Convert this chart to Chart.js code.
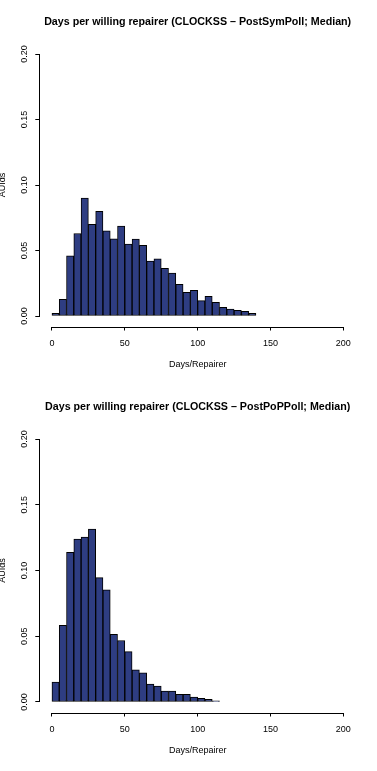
<!DOCTYPE html>
<html>
<head>
<meta charset="utf-8">
<script src="https://cdn.jsdelivr.net/npm/chart.js@4/dist/chart.umd.min.js"></script>
<style>
  body { margin: 0; background: #fff; }
  canvas { display: block; }
</style>
</head>
<body>
<canvas id="symPoll" width="377" height="385"></canvas>
<canvas id="popPoll" width="377" height="386"></canvas>
<script>
// bin lower edges (5 days wide) and densities
const binWidth = 5;
const symBins = [0, 5, 10, 15, 20, 25, 30, 35, 40, 45, 50, 55, 60, 65, 70, 75, 80, 85, 90, 95,
  100, 105, 110, 115, 120, 125, 130, 135];
const symDensity = [0.002, 0.0128, 0.046, 0.063, 0.090, 0.070, 0.080, 0.065, 0.059, 0.0686,
  0.055, 0.0587, 0.054, 0.042, 0.0436, 0.0365, 0.0327, 0.0242, 0.018, 0.0196,
  0.0117, 0.015, 0.0104, 0.0066, 0.0053, 0.0043, 0.0036, 0.002];

const popBins = [0, 5, 10, 15, 20, 25, 30, 35, 40, 45, 50, 55, 60, 65, 70, 75, 80, 85, 90, 95,
  100, 105, 110];
const popDensity = [0.0152, 0.0584, 0.1139, 0.124, 0.1254, 0.1316, 0.0946, 0.0853, 0.0514, 0.0468,
  0.0383, 0.0244, 0.0221, 0.0136, 0.0121, 0.0082, 0.0082, 0.0059, 0.0059, 0.0038,
  0.0028, 0.002, 0.0008];

const xTicks = [0, 50, 100, 150, 200];
const yTicks = [0, 0.05, 0.10, 0.15, 0.20];

const FONT = "'Liberation Sans', Arial, Helvetica, sans-serif";
const BAR_COLOR = "#2e3d82";

// R style axes: the line only runs from first to last tick
const rAxisLines = {
  id: "rAxisLines",
  afterDraw(chart) {
    const { ctx, scales: { x, y } } = chart;
    ctx.save();
    ctx.strokeStyle = "#000";
    ctx.lineWidth = 1;
    ctx.beginPath();
    const xa = Math.round(x.top) + 0.5;
    ctx.moveTo(x.getPixelForValue(xTicks[0]), xa);
    ctx.lineTo(x.getPixelForValue(xTicks[xTicks.length - 1]), xa);
    const ya = Math.round(y.right) - 0.5;
    ctx.moveTo(ya, y.getPixelForValue(yTicks[0]));
    ctx.lineTo(ya, y.getPixelForValue(yTicks[yTicks.length - 1]));
    ctx.stroke();
    ctx.restore();
  },
};

const makeHist = (id, title, bins, density) => {
  const points = bins.map((b, i) => ({ x: b + binWidth / 2, y: density[i] }));
  return new Chart(document.getElementById(id), {
    type: "bar",
    data: {
      datasets: [
        {
          data: points,
          backgroundColor: BAR_COLOR,
          borderColor: "#000",
          borderWidth: 1,
          borderSkipped: false,
          barPercentage: 1,
          categoryPercentage: 1,
        },
      ],
    },
    options: {
      responsive: false,
      animation: false,
      devicePixelRatio: 1,
      layout: { padding: { left: 0, right: 22, top: 0, bottom: 0 } },
      plugins: {
        legend: { display: false },
        tooltip: { enabled: false },
        title: {
          display: true,
          text: title,
          fullSize: false,
          color: "#000",
          font: { family: FONT, size: 10.7, weight: "bold" },
          padding: { top: 15.6, bottom: 15.1 },
        },
      },
      scales: {
        x: {
          type: "linear",
          offset: false,
          min: -8,
          max: 208,
          afterBuildTicks: (s) => { s.ticks = xTicks.map((v) => ({ value: v })); },
          afterFit: (s) => { s.height = 58.5; },
          border: { display: false },
          grid: { offset: false, drawOnChartArea: false, drawTicks: true, tickLength: 4, color: "#000" },
          ticks: { color: "#000", padding: 8, font: { family: FONT, size: 9 }, maxRotation: 0 },
          title: {
            display: true,
            text: "Days/Repairer",
            color: "#000",
            font: { family: FONT, size: 9 },
            padding: { top: 0, bottom: 14.6 },
          },
        },
        y: {
          min: -0.008,
          max: 0.208,
          afterBuildTicks: (s) => { s.ticks = yTicks.map((v) => ({ value: v })); },
          afterFit: (s) => { s.width = 40.3; },
          border: { display: false },
          grid: { drawOnChartArea: false, drawTicks: true, tickLength: 5, color: "#000" },
          ticks: {
            color: "#000",
            padding: 2.5,
            minRotation: 90,
            maxRotation: 90,
            crossAlign: "center",
            font: { family: FONT, size: 9 },
            callback: (v) => v.toFixed(2),
          },
          title: {
            display: true,
            text: "AUIds",
            color: "#000",
            font: { family: FONT, size: 9 },
            padding: { top: -3, bottom: 0 },
          },
        },
      },
    },
    plugins: [rAxisLines],
  });
};

makeHist("symPoll", "Days per willing repairer (CLOCKSS \u2013 PostSymPoll; Median)", symBins, symDensity);
makeHist("popPoll", "Days per willing repairer (CLOCKSS \u2013 PostPoPPoll; Median)", popBins, popDensity);
</script>
</body>
</html>
